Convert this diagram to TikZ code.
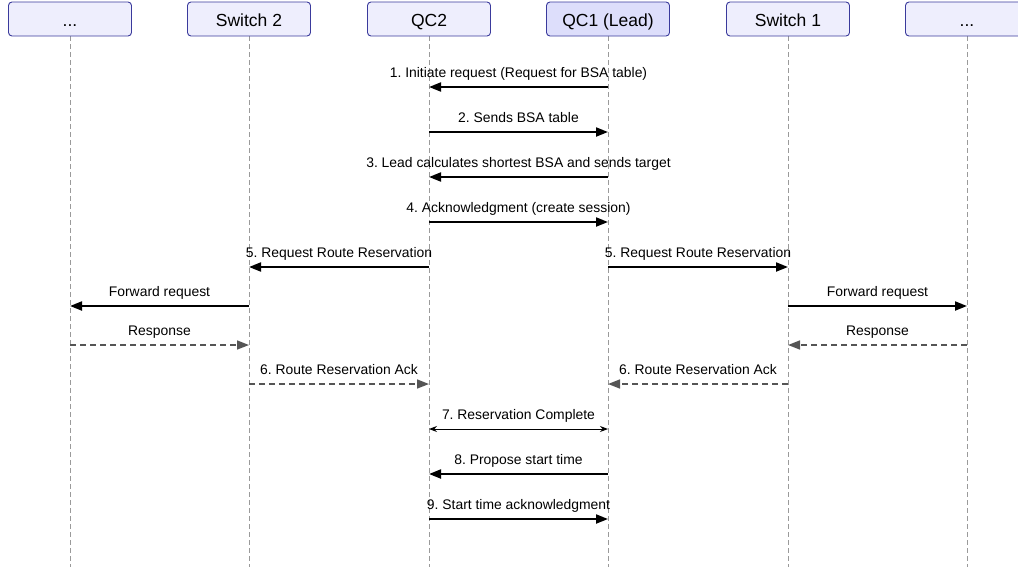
\documentclass[tikz,border=0pt]{standalone}
\usepackage{fontspec}
\setmainfont{Liberation Sans}
\usetikzlibrary{arrows.meta}
\frenchspacing
\definecolor{boxfill}{HTML}{EEEEFD}
\definecolor{leadfill}{HTML}{DDDEFB}
\definecolor{boxdraw}{HTML}{3A3A9C}
\definecolor{lifegray}{HTML}{9A9A9A}
\definecolor{dashgray}{HTML}{555555}
\tikzset{
  actor/.style={draw=boxdraw, fill=boxfill, rounded corners=3.5pt, line width=0.9pt,
    minimum width=123pt, minimum height=34pt, inner sep=0pt,
    text height=17pt, text depth=1.6pt,
    font=\fontsize{17.5}{20}\selectfont},
  lifeline/.style={draw=lifegray, line width=0.9pt, dash pattern=on 5pt off 3pt},
  msg/.style={draw=black, line width=2pt, -{Triangle[length=12pt,width=9pt]}},
  reply/.style={draw=dashgray, line width=1.6pt, dash pattern=on 6pt off 4pt,
    -{Triangle[length=12pt,width=9pt]}},
  both/.style={draw=black, line width=1pt,
    {Stealth[length=8pt,width=6pt]}-{Stealth[length=8pt,width=6pt]}},
  lbl/.style={anchor=base, yshift=10pt, inner sep=0pt,
    font=\fontsize{13.9}{16}\selectfont\frenchspacing, text=black},
}
\begin{document}
\begin{tikzpicture}[x=1pt,y=-1pt]
\useasboundingbox (0,0) rectangle (1018,571);
% lifelines first (behind boxes)
\foreach \n/\x in {a/70,b/249,c/429,d/608,e/788,f/967}{
  \coordinate (\n top) at (\x,36);
  \coordinate (\n bot) at (\x,567);
  \draw[lifeline] (\n top) -- (\n bot);
  \foreach \r/\y in {1/87,2/132,3/177,4/222,5/267,6/306,7/345,8/384,9/429,10/474,11/519}{
    \coordinate (\n\r) at (\x,\y);
  }
}
\node[actor] (A) at (70,19) {...};
\node[actor] (S2) at (249,19) {Switch 2};
\node[actor] (QC2) at (429,19) {QC2};
\node[actor, fill=leadfill] (QC1) at (608,19) {QC1 (Lead)};
\node[actor] (S1) at (788,19) {Switch 1};
\node[actor] (F) at (967,19) {...};

\draw[msg] (d1) -- node[lbl] {1. Initiate request (Request for BSA table)} (c1);
\draw[msg] (c2) -- node[lbl] {2. Sends BSA table} (d2);
\draw[msg] (d3) -- node[lbl] {3. Lead calculates shortest BSA and sends target} (c3);
\draw[msg] (c4) -- node[lbl] {4. Acknowledgment (create session)} (d4);
\draw[msg] (c5) -- node[lbl] {5. Request Route Reservation} (b5);
\draw[msg] (d5) -- node[lbl] {5. Request Route Reservation} (e5);
\draw[msg] (b6) -- node[lbl] {Forward request} (a6);
\draw[msg] (e6) -- node[lbl] {Forward request} (f6);
\draw[reply] (a7) -- node[lbl] {Response} (b7);
\draw[reply] (f7) -- node[lbl] {Response} (e7);
\draw[reply] (b8) -- node[lbl] {6. Route Reservation Ack} (c8);
\draw[reply] (e8) -- node[lbl] {6. Route Reservation Ack} (d8);
\draw[both] (c9) -- node[lbl] {7. Reservation Complete} (d9);
\draw[msg] (d10) -- node[lbl] {8. Propose start time} (c10);
\draw[msg] (c11) -- node[lbl] {9. Start time acknowledgment} (d11);
\end{tikzpicture}
\end{document}
